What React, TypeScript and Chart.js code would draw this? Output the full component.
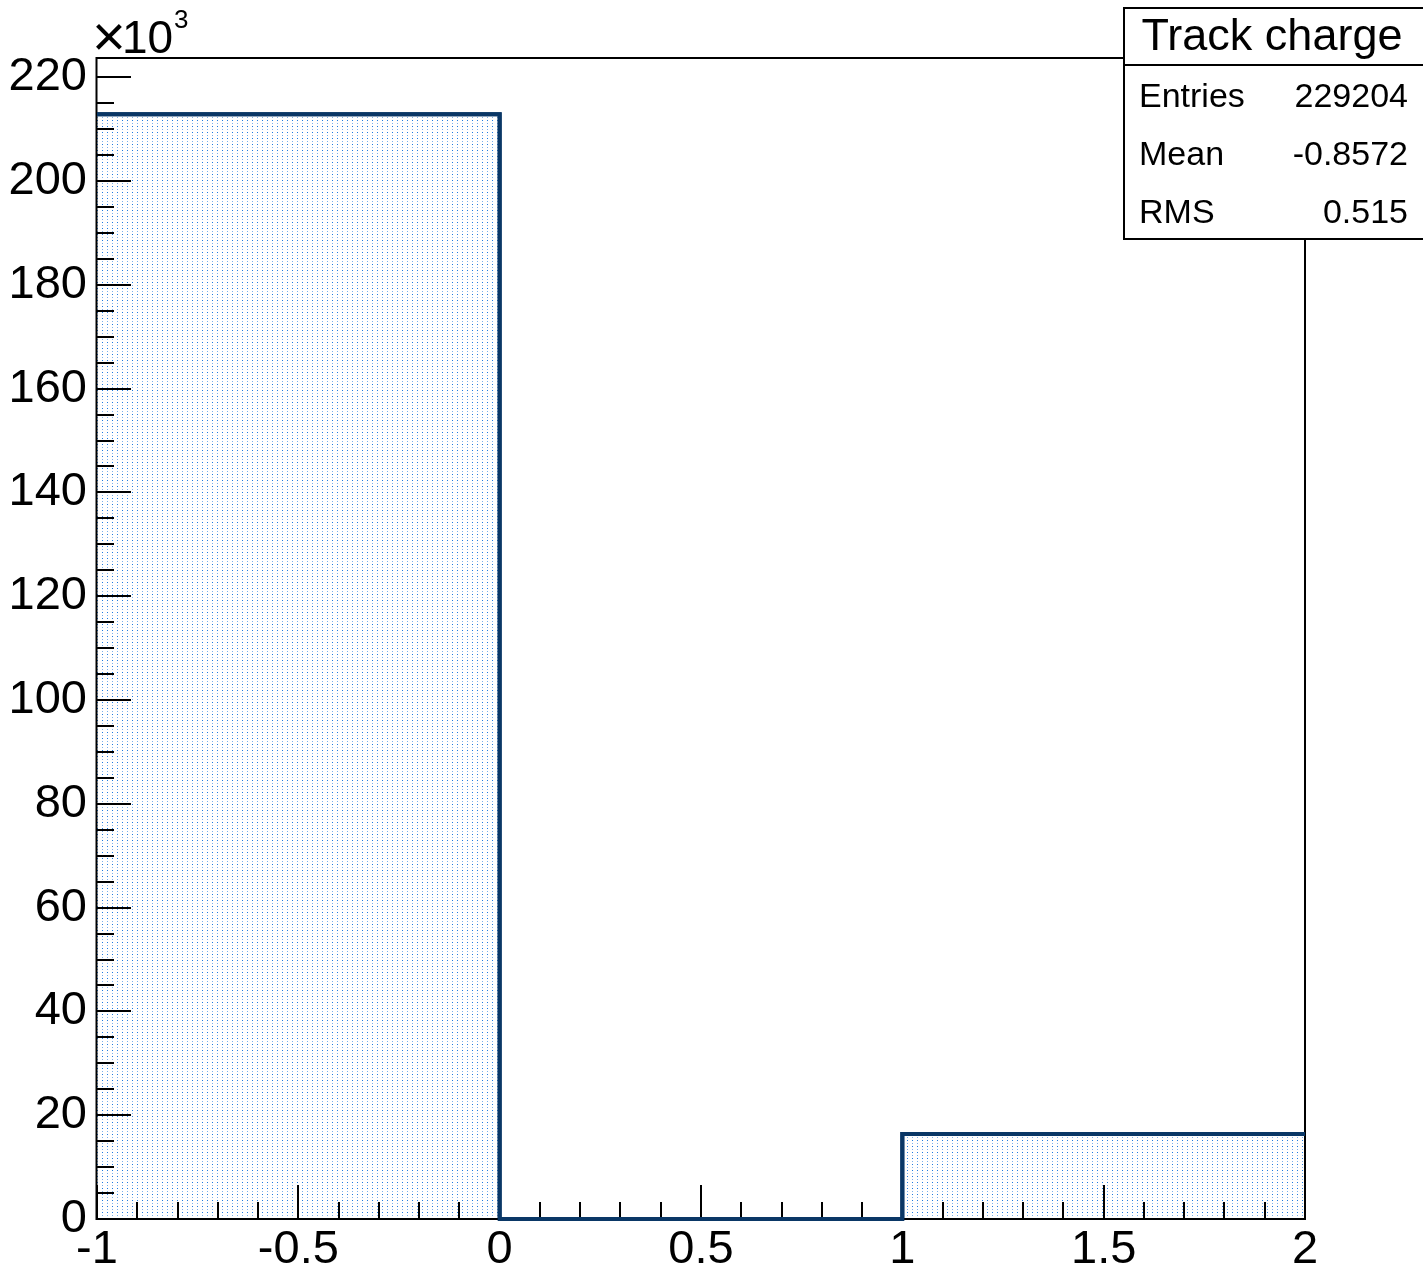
import React, { useEffect, useRef } from "react";
import { Chart, registerables } from "chart.js";

Chart.register(...registerables);

// ---- Data ----
const binEdges = [-1, 0, 1, 2];
const binCounts = [212839, 0, 16365];
const histTitle = "Track charge";
const statLabels = ["Entries", "Mean", "RMS"];
const statValues = ["229204", "-0.8572", "0.515"];
const xRange = [-1, 2];
const yRange = [0, 223700];
const yTickValues = [0, 20000, 40000, 60000, 80000, 100000, 120000, 140000, 160000, 180000, 200000, 220000];
const xTickValues = [-1, -0.5, 0, 0.5, 1, 1.5, 2];

const FONT = "'Liberation Sans', Arial, Helvetica, sans-serif";
const LINE_COLOR = "#0a3766";

function makePattern(): CanvasPattern | string {
  const c = document.createElement("canvas");
  c.width = 5;
  c.height = 6;
  const g = c.getContext("2d");
  if (!g) return "#dbe9f8";
  g.fillStyle = "#ffffff";
  g.fillRect(0, 0, 5, 6);
  g.fillStyle = "#1f7ae0";
  g.fillRect(2, 0, 1, 1);
  g.fillStyle = "#7fb0ea";
  g.fillRect(2, 3, 1, 1);
  const p = g.createPattern(c, "repeat");
  return p || "#dbe9f8";
}

const rootPlugin = {
  id: "rootFrame",
  afterDatasetsDraw(chart: any) {
    const ctx = chart.ctx as CanvasRenderingContext2D;
    const { left, right, top, bottom } = chart.chartArea;
    const xs = chart.scales.x;
    const ys = chart.scales.y;
    ctx.save();
    ctx.strokeStyle = "#000";
    ctx.lineWidth = 2;
    ctx.beginPath();
    for (let i = 0; i <= 30; i++) {
      const v = xRange[0] + i * 0.1;
      const px = Math.round(xs.getPixelForValue(v));
      const len = i % 5 === 0 ? 34 : 17;
      ctx.moveTo(px, bottom);
      ctx.lineTo(px, bottom - len);
    }
    for (let v = 0; v <= yRange[1]; v += 5000) {
      const py = Math.round(ys.getPixelForValue(v));
      const len = v % 20000 === 0 ? 34 : 17;
      ctx.moveTo(left, py);
      ctx.lineTo(left + len, py);
    }
    ctx.stroke();
    ctx.lineWidth = 2;
    ctx.strokeRect(left - 0.5, top, right - left + 0.5, bottom - top);
    ctx.restore();

    // redraw the histogram outline on top of the frame
    const meta = chart.getDatasetMeta(0);
    ctx.save();
    ctx.beginPath();
    ctx.rect(left - 2, top - 2, right - left + 4, bottom - top + 4);
    ctx.clip();
    ctx.strokeStyle = LINE_COLOR;
    ctx.lineWidth = 4;
    ctx.lineJoin = "miter";
    ctx.beginPath();
    const pts = meta.data;
    for (let i = 0; i < pts.length; i++) {
      const p = pts[i];
      if (i === 0) ctx.moveTo(p.x, p.y);
      else {
        const prev = pts[i - 1];
        ctx.lineTo(p.x, prev.y);
        ctx.lineTo(p.x, p.y);
      }
    }
    ctx.stroke();
    ctx.restore();

    // x10^3 label
    ctx.save();
    ctx.fillStyle = "#000";
    ctx.textBaseline = "alphabetic";
    ctx.textAlign = "left";
    ctx.font = `300 58px ${FONT}`;
    ctx.fillText("\u00d7", 92, 56);
    ctx.font = `46px ${FONT}`;
    ctx.fillText("10", 122, 53);
    ctx.font = `26px ${FONT}`;
    ctx.fillText("3", 174, 28);
    ctx.restore();

    // stats box
    ctx.save();
    const bx = 1124, by = 8, bw = 320, bh = 231;
    ctx.fillStyle = "#fff";
    ctx.fillRect(bx, by, bw, bh);
    ctx.strokeStyle = "#000";
    ctx.lineWidth = 2;
    ctx.strokeRect(bx, by, bw, bh);
    ctx.beginPath();
    ctx.moveTo(bx, 65);
    ctx.lineTo(bx + bw, 65);
    ctx.stroke();
    ctx.fillStyle = "#000";
    ctx.textBaseline = "middle";
    ctx.textAlign = "center";
    ctx.font = `45px ${FONT}`;
    ctx.fillText(histTitle, 1272, 38);
    ctx.font = `34px ${FONT}`;
    const rowsY = [98, 156, 214];
    for (let i = 0; i < statLabels.length; i++) {
      ctx.textAlign = "left";
      ctx.fillText(statLabels[i], 1139, rowsY[i]);
      ctx.textAlign = "right";
      ctx.fillText(statValues[i], 1408, rowsY[i]);
    }
    ctx.restore();
  },
};

export default function App() {
  const ref = useRef<HTMLCanvasElement | null>(null);
  useEffect(() => {
    if (!ref.current) return;
    const pattern = makePattern();
    const points = binCounts.map((c, i) => ({ x: binEdges[i], y: c }));
    points.push({ x: binEdges[binEdges.length - 1], y: binCounts[binCounts.length - 1] });
    const chart = new Chart(ref.current, {
      type: "line",
      data: {
        datasets: [
          {
            data: points,
            stepped: "before",
            borderColor: LINE_COLOR,
            borderWidth: 4,
            backgroundColor: pattern as any,
            fill: "origin",
            pointRadius: 0,
            tension: 0,
          },
        ],
      },
      options: {
        animation: false,
        responsive: false,
        devicePixelRatio: 1,
        layout: { padding: { top: 58, right: 118, left: 0, bottom: 0 } },
        plugins: { legend: { display: false }, tooltip: { enabled: false } },
        scales: {
          x: {
            type: "linear",
            min: xRange[0],
            max: xRange[1],
            grid: { display: false, drawTicks: false },
            border: { display: false },
            afterBuildTicks: (s: any) => {
              s.ticks = xTickValues.map((v) => ({ value: v }));
            },
            ticks: {
              autoSkip: false,
              maxRotation: 0,
              padding: 3,
              color: "#000",
              font: { family: FONT, size: 47 },
              callback: (v: any) => String(Math.round(Number(v) * 10) / 10),
            },
            afterFit: (s: any) => {
              s.height = 55;
              s.paddingLeft = 0;
              s.paddingRight = 0;
            },
          },
          y: {
            type: "linear",
            min: yRange[0],
            max: yRange[1],
            grid: { display: false, drawTicks: false },
            border: { display: false },
            afterBuildTicks: (s: any) => {
              s.ticks = yTickValues.map((v) => ({ value: v }));
            },
            ticks: {
              autoSkip: false,
              padding: 10,
              color: "#000",
              font: { family: FONT, size: 47 },
              callback: (v: any) => String(Math.round(Number(v) / 1000)),
            },
            afterFit: (s: any) => {
              s.width = 97;
              s.paddingTop = 0;
              s.paddingBottom = 0;
            },
          },
        },
      },
      plugins: [rootPlugin],
    });
    return () => chart.destroy();
  }, []);
  return (
    <div style={{ position: "absolute", left: 0, top: 0, width: 1423, height: 1274, background: "#fff" }}>
      <canvas ref={ref} width={1423} height={1274} style={{ display: "block" }} />
    </div>
  );
}
